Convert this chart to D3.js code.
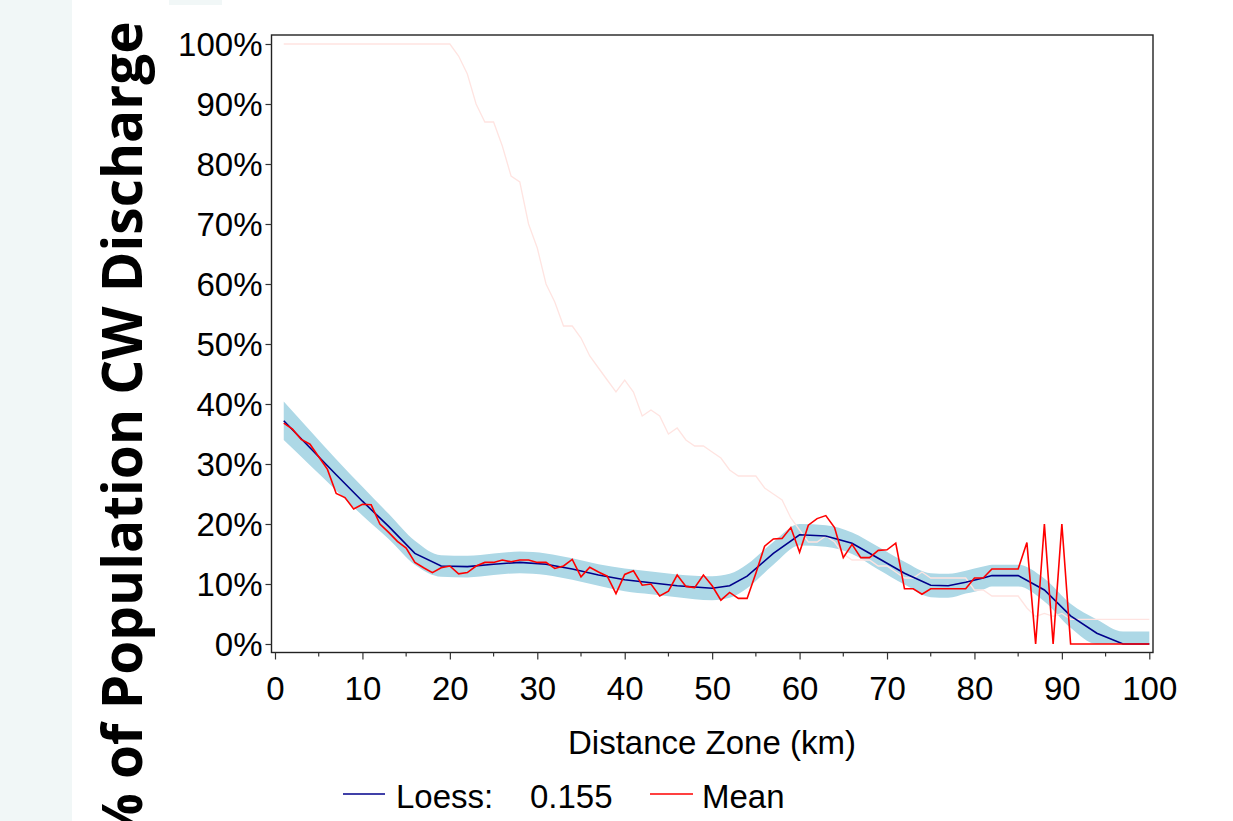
<!DOCTYPE html>
<html>
<head>
<meta charset="utf-8">
<script src="https://cdn.jsdelivr.net/npm/d3@7"></script>
<style>
body { margin: 0; background: #fff; }
svg text { font-family: "Liberation Sans", Arial, sans-serif; fill: #000; }
</style>
</head>
<body>
<div id="chart"></div>
<script>
// distance zones (km) for the mean and population series
var zoneKm = d3.range(1, 101);

// mean % per zone
var meanPct = [36.8, 35.8, 34.1, 33.3, 31.2, 29.1, 25.1, 24.4, 22.5, 23.3,
               23.2, 20.0, 18.6, 17.1, 16.0, 13.6, 12.7, 11.9, 12.7, 13.0,
               11.7, 11.9, 13.0, 13.6, 13.6, 14.0, 13.7, 14.0, 14.0, 13.6,
               13.6, 12.6, 13.0, 14.1, 11.2, 12.8, 12.0, 11.3, 8.4, 11.6,
               12.2, 9.8, 10.0, 8.0, 8.8, 11.5, 9.6, 9.4, 11.5, 9.7,
               7.3, 8.6, 7.6, 7.6, 11.8, 16.3, 17.5, 17.6, 19.4, 15.3,
               19.8, 20.9, 21.4, 19.4, 14.4, 16.6, 14.4, 14.4, 15.6, 15.7,
               16.8, 9.2, 9.2, 8.3, 9.2, 9.2, 9.2, 9.2, 9.2, 11.0,
               11.0, 12.5, 12.5, 12.5, 12.5, 16.9, 0, 20, 0, 20,
               0, 0, 0, 0, 0, 0, 0, 0, 0, 0];

// faint background series (share of population within zone)
var popPct = [100, 100, 100, 100, 100, 100, 100, 100, 100, 100,
              100, 100, 100, 100, 100, 100, 100, 100, 100, 100,
              98, 95, 90, 87, 87, 83, 78, 77, 70, 66,
              60, 57, 53, 53, 51, 48, 46, 44, 42, 44,
              42, 38, 39, 38, 35, 36, 34, 33, 33, 32,
              31, 29, 28, 28, 28, 26, 25, 24, 21, 19,
              17, 17, 18, 17, 15, 14, 14, 14, 13, 13,
              12, 11, 11, 12, 11, 11, 11, 11, 11, 9,
              9, 8, 8, 8, 8, 6, 4.6, 5.1, 4.6, 5.1,
              4.1, 4.1, 4.1, 4.1, 4.1, 4.1, 4.1, 4.1, 4.1, 4.1];

// loess fit and its band
var loessKm   = [1, 4, 7, 10, 13, 16, 19, 22, 25, 28, 31, 34, 37, 40, 43, 46, 50, 52, 54,
                 57, 60, 63, 66, 69, 72, 75, 77, 79, 81, 82, 85, 88, 91, 94, 97, 100];
var loessPct  = [37.2, 32.7, 28.2, 23.8, 19.6, 15.1, 13.0, 12.9, 13.3, 13.6, 13.3, 12.5,
                 11.5, 10.7, 10.2, 9.7, 9.3, 9.7, 11.3, 15.1, 18.2, 18.0, 16.8, 14.3,
                 11.8, 9.8, 9.7, 10.3, 11.0, 11.4, 11.4, 9.0, 4.7, 1.8, 0, 0];
var bandLow   = [34.0, 29.8, 25.6, 21.4, 17.5, 13.2, 11.2, 11.1, 11.5, 11.8, 11.5, 10.7,
                 9.7, 8.8, 8.3, 7.8, 7.3, 7.7, 9.3, 13.2, 16.4, 16.2, 15.0, 12.4,
                 9.9, 7.8, 7.7, 8.4, 9.1, 9.6, 9.6, 7.1, 2.7, 0, 0, 0];
var bandHigh  = [40.4, 35.6, 30.8, 26.2, 21.7, 17.2, 14.8, 14.7, 15.1, 15.4, 15.1, 14.3,
                 13.3, 12.6, 12.1, 11.6, 11.3, 11.7, 13.3, 17.0, 20.0, 19.8, 18.6, 16.2,
                 13.7, 11.8, 11.7, 12.2, 12.9, 13.2, 13.2, 10.9, 6.7, 4.1, 2.1, 2.1];

var yTicks = [0, 10, 20, 30, 40, 50, 60, 70, 80, 90, 100];
var xTicks = [0, 10, 20, 30, 40, 50, 60, 70, 80, 90, 100];
var xMinor = [5, 15, 25, 35, 45, 55, 65, 75, 85, 95];

var W = 1233, H = 821;

var x = d3.scaleLinear().domain([0, 100]).range([275, 1149.3]);
var y = d3.scaleLinear().domain([0, 100]).range([644, 44]);

var frame = { left: 271.5, right: 1153, top: 35, bottom: 652.5 };

var svg = d3.select("#chart").append("svg")
    .attr("width", W)
    .attr("height", H);

svg.append("rect").attr("width", W).attr("height", H).attr("fill", "#fff");

// slide background bits
svg.append("rect").attr("x", 0).attr("y", 0).attr("width", 72).attr("height", H).attr("fill", "#f1f7f7");
svg.append("rect").attr("x", 169).attr("y", 0).attr("width", 53).attr("height", 5).attr("fill", "#f1f7f7");

var plot = svg.append("g");

var band = d3.area()
    .curve(d3.curveMonotoneX)
    .x(function(d, i) { return x(loessKm[i]); })
    .y0(function(d, i) { return y(bandLow[i]); })
    .y1(function(d, i) { return y(bandHigh[i]); });

plot.append("path")
    .datum(loessKm)
    .attr("d", band)
    .attr("fill", "#add8e6");

var line = d3.line()
    .x(function(d) { return x(d[0]); })
    .y(function(d) { return y(d[1]); });

plot.append("path")
    .datum(zoneKm.map(function(k, i) { return [k, popPct[i]]; }))
    .attr("d", line)
    .attr("fill", "none")
    .attr("stroke", "#ffe4e1")
    .attr("stroke-width", 1.3);

plot.append("path")
    .datum(loessKm.map(function(k, i) { return [k, loessPct[i]]; }))
    .attr("d", line)
    .attr("fill", "none")
    .attr("stroke", "#00008b")
    .attr("stroke-width", 1.6);

plot.append("path")
    .datum(zoneKm.map(function(k, i) { return [k, meanPct[i]]; }))
    .attr("d", line)
    .attr("fill", "none")
    .attr("stroke", "#ff0000")
    .attr("stroke-width", 1.6);

// frame
svg.append("rect")
    .attr("x", frame.left)
    .attr("y", frame.top)
    .attr("width", frame.right - frame.left)
    .attr("height", frame.bottom - frame.top)
    .attr("fill", "none")
    .attr("stroke", "#222")
    .attr("stroke-width", 1.4);

// y axis
var yAxis = d3.axisLeft(y)
    .tickValues(yTicks)
    .tickFormat(function(d) { return d + "%"; })
    .tickSize(6)
    .tickPadding(3);

var yG = svg.append("g")
    .attr("transform", "translate(" + frame.left + ",0)")
    .call(yAxis);
yG.select(".domain").remove();
yG.selectAll(".tick line").attr("stroke", "#333").attr("stroke-width", 1.2);
yG.selectAll(".tick text").style("font-size", "33px").attr("dy", "0.35em");

// x axis
var xAxis = d3.axisBottom(x)
    .tickValues(xTicks)
    .tickSize(7)
    .tickPadding(17);

var xG = svg.append("g")
    .attr("transform", "translate(0," + frame.bottom + ")")
    .call(xAxis);
xG.select(".domain").remove();
xG.selectAll(".tick line").attr("stroke", "#333").attr("stroke-width", 1.2);
xG.selectAll(".tick text").style("font-size", "33px");

xG.selectAll(".minor")
    .data(xMinor)
    .enter()
    .append("line")
    .attr("class", "minor")
    .attr("x1", function(d) { return x(d); })
    .attr("x2", function(d) { return x(d); })
    .attr("y1", 0)
    .attr("y2", 4)
    .attr("stroke", "#333")
    .attr("stroke-width", 1.2);

// axis titles
svg.append("text")
    .attr("x", 712)
    .attr("y", 754)
    .attr("text-anchor", "middle")
    .style("font-size", "33px")
    .text("Distance Zone (km)");

svg.append("text")
    .attr("transform", "translate(142,432) rotate(-90)")
    .attr("text-anchor", "middle")
    .style("font-family", "'Open Sans', 'Noto Sans', sans-serif")
    .style("font-weight", "bold")
    .style("font-size", "55px")
    .text("% of Population CW Discharge");

// legend
var legend = svg.append("g");
legend.append("line")
    .attr("x1", 343).attr("x2", 385).attr("y1", 794).attr("y2", 794)
    .attr("stroke", "#00008b").attr("stroke-width", 1.6);
legend.append("text")
    .attr("x", 396).attr("y", 808)
    .style("font-size", "33px")
    .text("Loess:");
legend.append("text")
    .attr("x", 530).attr("y", 808)
    .style("font-size", "33px")
    .text("0.155");
legend.append("line")
    .attr("x1", 650).attr("x2", 693).attr("y1", 794).attr("y2", 794)
    .attr("stroke", "#ff0000").attr("stroke-width", 1.6);
legend.append("text")
    .attr("x", 702).attr("y", 808)
    .style("font-size", "33px")
    .text("Mean");
</script>
</body>
</html>
